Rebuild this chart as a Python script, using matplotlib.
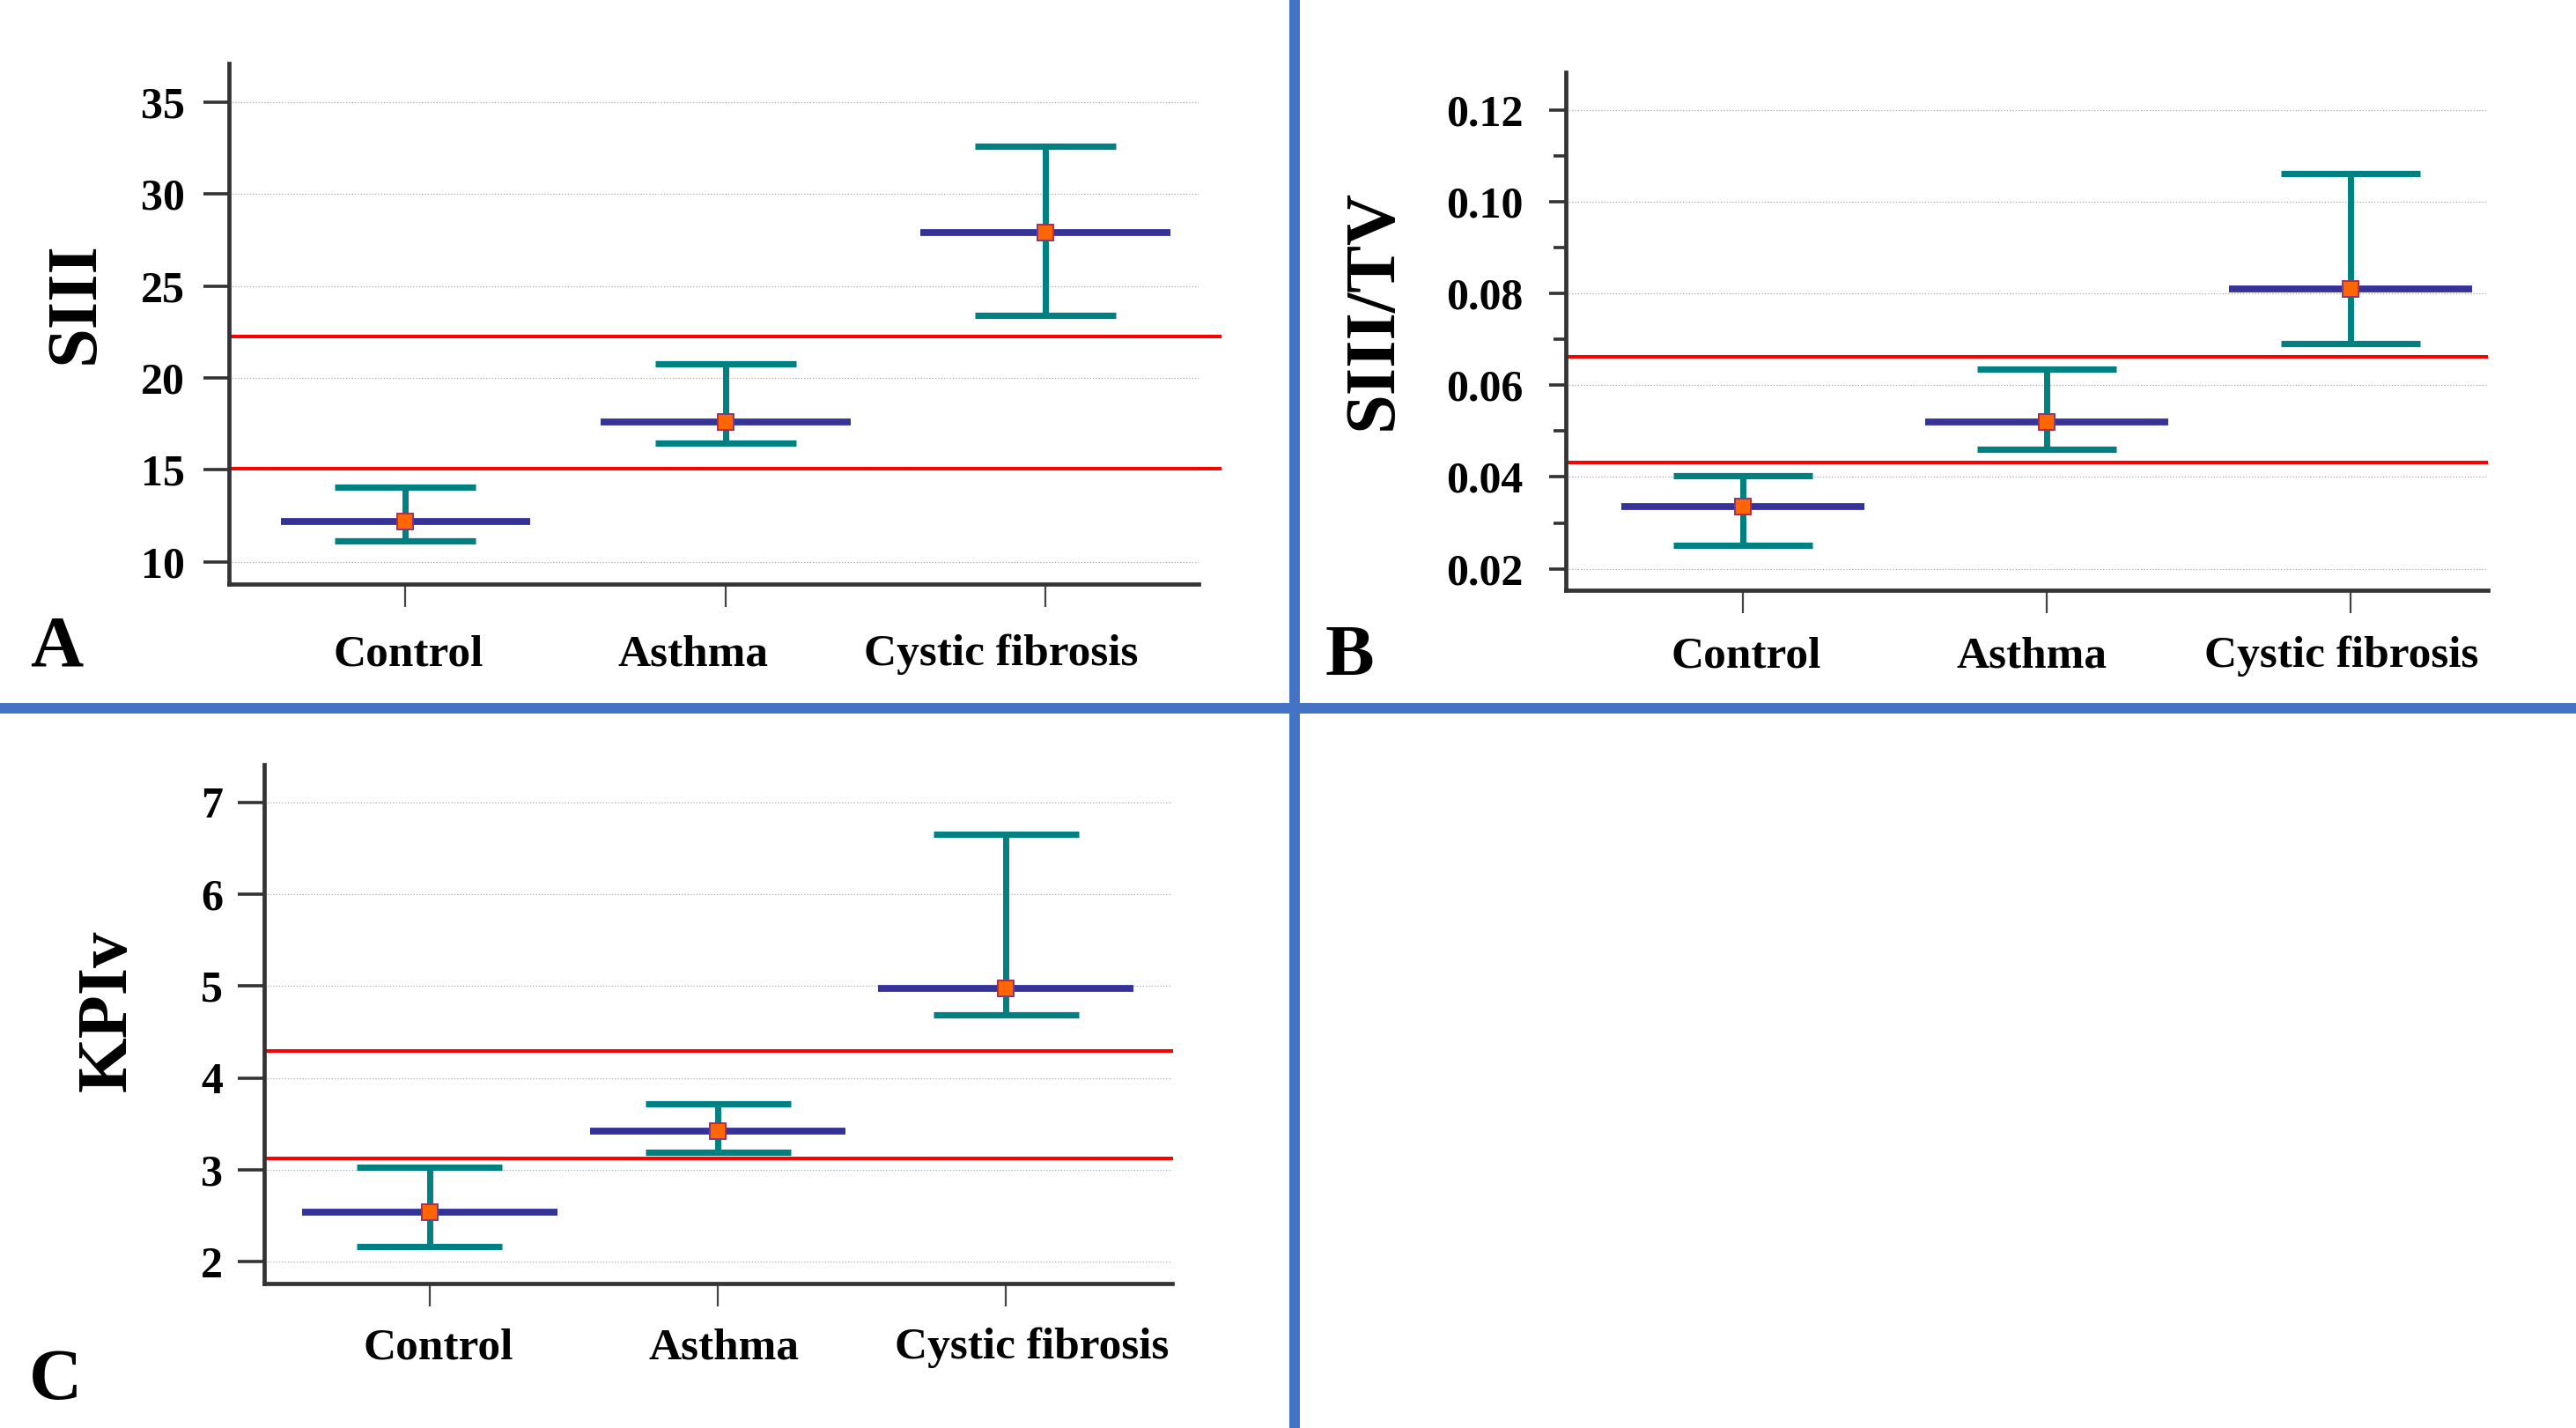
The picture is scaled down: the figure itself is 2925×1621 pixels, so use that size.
import numpy as np
import matplotlib
matplotlib.use('Agg')
import matplotlib.pyplot as plt
import matplotlib.transforms as mtransforms
from matplotlib.lines import Line2D

categories = ['Control', 'Asthma', 'Cystic fibrosis']

siii_mean = [12.18, 17.60, 27.92]
siii_lo = [11.11, 16.46, 23.39]
siii_hi = [14.03, 20.77, 32.60]
siii_ref = [15.05, 22.23]

siiitv_mean = [0.0335, 0.0520, 0.0810]
siiitv_lo = [0.0251, 0.0461, 0.0692]
siiitv_hi = [0.0402, 0.0636, 0.1062]
siiitv_ref = [0.0431, 0.0663]

kpiv_mean = [2.54, 3.42, 4.97]
kpiv_lo = [2.16, 3.19, 4.69]
kpiv_hi = [3.03, 3.72, 6.65]
kpiv_ref = [3.12, 4.29]

NAVY = '#333399'
TEAL = '#008080'
ORANGE = '#FF6600'
PURPLE = '#993366'
RED = '#FF0000'
DIVIDER = '#4472C4'
FONT = 'Liberation Serif'

W, H = 2925, 1621
fig = plt.figure(figsize=(W / 100, H / 100), dpi=100)
fig.patch.set_facecolor('white')

panels = [
    dict(letter='A', ylabel='SIII', mean=siii_mean, lo=siii_lo, hi=siii_hi, ref=siii_ref,
         rect=(260, 72, 1361, 663), xlim=(-0.551, 2.478), ylim=(8.78, 37.1),
         yticks=np.arange(10, 36, 5), ytl=['10', '15', '20', '25', '30', '35'], minor=None,
         bw=0.39, cw=0.22, red_end=2.55, tlen=21, tpad=15,
         lab_x=[0.01, 0.90, 1.86], ylab_pos=(-0.158, 0.541), letter_pos=(34, 755)),
    dict(letter='B', ylabel='SIII/TV', mean=siiitv_mean, lo=siiitv_lo, hi=siiitv_hi, ref=siiitv_ref,
         rect=(1778, 82, 2825, 670), xlim=(-0.583, 2.452), ylim=(0.0153, 0.1283),
         yticks=[0.02, 0.04, 0.06, 0.08, 0.10, 0.12],
         ytl=['0.02', '0.04', '0.06', '0.08', '0.10', '0.12'],
         minor=[0.03, 0.05, 0.07, 0.09, 0.11],
         bw=0.40, cw=0.228, red_end=2.452, tlen=14, tpad=21,
         lab_x=[0.01, 0.95, 1.97], ylab_pos=(-0.208, 0.5425), letter_pos=(1505, 766)),
    dict(letter='C', ylabel='KPIv', mean=kpiv_mean, lo=kpiv_lo, hi=kpiv_hi, ref=kpiv_ref,
         rect=(300, 868, 1331, 1457), xlim=(-0.573, 2.576), ylim=(1.762, 7.41),
         yticks=np.arange(2, 8, 1), ytl=['2', '3', '4', '5', '6', '7'], minor=None,
         bw=0.443, cw=0.252, red_end=2.58, tlen=21.6, tpad=12,
         lab_x=[0.03, 1.02, 2.09], ylab_pos=(-0.172, 0.525), letter_pos=(33, 1588)),
]

x = np.arange(len(categories))

for p in panels:
    l, t, r, b = p['rect']
    ax = fig.add_axes([l / W, 1 - b / H, (r - l) / W, (b - t) / H])
    ax.set_xlim(*p['xlim'])
    ax.set_ylim(*p['ylim'])

    for s in ['top', 'right']:
        ax.spines[s].set_visible(False)
    for s in ['left', 'bottom']:
        ax.spines[s].set_linewidth(3.4)
        ax.spines[s].set_color('#333333')

    ax.set_yticks(p['yticks'])
    ax.set_yticklabels(p['ytl'], fontfamily=FONT, fontweight='bold', fontsize=36)
    ax.tick_params(axis='y', length=p['tlen'], width=2.6, color='#333333', pad=p['tpad'])
    if p['minor'] is not None:
        ax.set_yticks(p['minor'], minor=True)
        ax.tick_params(axis='y', which='minor', length=10, width=2.6, color='#333333')
    ax.set_xticks(x)
    ax.set_xticklabels([])
    ax.tick_params(axis='x', length=19, width=1.6, color='#444444')

    ax.grid(axis='y', which='major', color='#aaaaaa', linestyle=':', linewidth=0.9)
    ax.set_axisbelow(True)

    # reference limits
    ax.hlines(p['ref'], p['xlim'][0], p['red_end'], color=RED, linewidth=2.9,
              clip_on=False, zorder=2)

    # error bars
    ax.vlines(x, p['lo'], p['hi'], color=TEAL, linewidth=5.0, zorder=3)
    ax.hlines(p['lo'], x - p['cw'], x + p['cw'], color=TEAL, linewidth=5.2, zorder=3)
    ax.hlines(p['hi'], x - p['cw'], x + p['cw'], color=TEAL, linewidth=5.2, zorder=3)

    # means
    ax.hlines(p['mean'], x - p['bw'], x + p['bw'], color=NAVY, linewidth=5.6, zorder=4)
    ax.plot(x, p['mean'], 's', markersize=13.5, markerfacecolor=ORANGE,
            markeredgecolor=PURPLE, markeredgewidth=1.4, zorder=5, linestyle='none')

    trans = mtransforms.blended_transform_factory(ax.transData, ax.transAxes)
    lab_y = {'A': -0.156, 'B': -0.148, 'C': -0.145}[p['letter']]
    for lx, name in zip(p['lab_x'], categories):
        ax.text(lx, lab_y, name, transform=trans, ha='center', va='baseline',
                fontfamily=FONT, fontweight='bold', fontsize=37)

    ax.text(p['ylab_pos'][0], p['ylab_pos'][1], p['ylabel'], transform=ax.transAxes,
            rotation=90, ha='center', va='center', fontfamily=FONT,
            fontweight='bold', fontsize=58)

    fig.text(p['letter_pos'][0] / W, 1 - p['letter_pos'][1] / H, p['letter'],
             ha='left', va='baseline', fontfamily=FONT, fontweight='bold', fontsize=60)

# panel dividers
fig.add_artist(Line2D([1470 / W, 1470 / W], [5 / H, 1 - 5 / H], color=DIVIDER,
                      linewidth=8.6, transform=fig.transFigure))
fig.add_artist(Line2D([5 / W, 1 - 5 / W], [1 - 804 / H, 1 - 804 / H], color=DIVIDER,
                      linewidth=8.6, transform=fig.transFigure))

fig.savefig('out.png', dpi=100, facecolor='white')
